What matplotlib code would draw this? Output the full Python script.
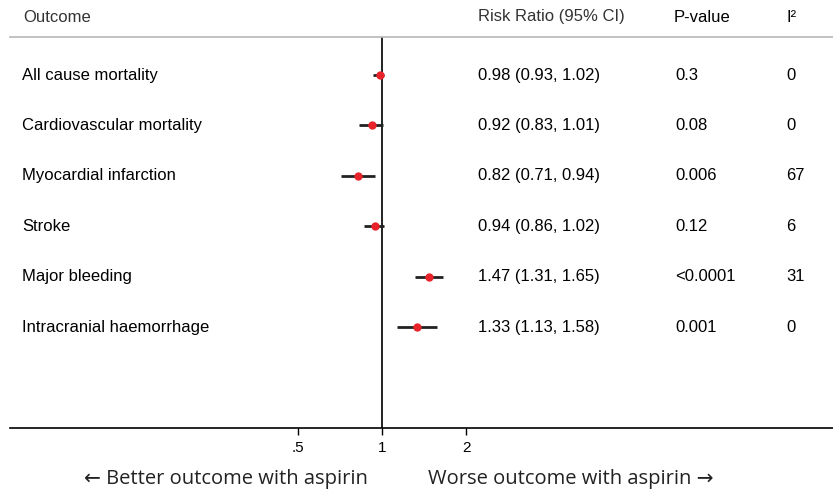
import matplotlib.pyplot as plt
import numpy as np

# pooled estimates, aspirin vs no aspirin
outcomes = ["All cause mortality", "Cardiovascular mortality", "Myocardial infarction",
            "Stroke", "Major bleeding", "Intracranial haemorrhage"]
rr = [0.98, 0.92, 0.82, 0.94, 1.47, 1.33]
lo = [0.93, 0.83, 0.71, 0.86, 1.31, 1.13]
hi = [1.02, 1.01, 0.94, 1.02, 1.65, 1.58]
pvals = ["0.3", "0.08", "0.006", "0.12", "<0.0001", "0.001"]
i2 = ["0", "0", "67", "6", "31", "0"]
xticks = [0.5, 1, 2]
xticklabels = [".5", "1", "2"]

W, H = 833, 492
fig = plt.figure(figsize=(W / 100, H / 100), dpi=100)
plt.rcParams['font.family'] = ['Liberation Sans', 'DejaVu Sans']

ax = fig.add_axes([10 / W, 1 - 428 / H, 1 - 10 / W, (428 - 37) / H])
ax.set_xscale('log', base=2)
ax.set_xlim(2 ** -4.43, 2 ** 5.37)
ax.set_ylim(7.0, -0.754)

y = np.arange(len(outcomes))
ax.hlines(y, lo, hi, color='#222222', lw=2, zorder=2)
ax.plot(rr, y, 'o', color='#e8242a', ms=6, mec='none', zorder=3)
ax.axvline(1, color='#111111', lw=1.3, zorder=1)

for s in ['left', 'right']:
    ax.spines[s].set_visible(False)
ax.spines['top'].set_color('#b8b8b8')
ax.spines['top'].set_linewidth(1.2)
ax.spines['bottom'].set_linewidth(1.2)
ax.set_yticks([])
ax.set_xticks(xticks)
ax.set_xticklabels(xticklabels, fontsize=11)
ax.xaxis.set_minor_locator(plt.NullLocator())
ax.tick_params(axis='x', length=5, width=1, pad=4)

tr = ax.get_yaxis_transform()
def fx(px):
    return px / W

def ax_x(px):
    return (px - 10) / (W - 10)

# table columns
for i, name in enumerate(outcomes):
    yy = y[i]
    ax.text(ax_x(22), yy, name, transform=tr, fontsize=12, va='center')
    ax.text(ax_x(478), yy, f"{rr[i]:.2f} ({lo[i]:.2f}, {hi[i]:.2f})",
            transform=tr, fontsize=12, va='center')
    ax.text(ax_x(675), yy, pvals[i], transform=tr, fontsize=12, va='center')
    ax.text(ax_x(786), yy, i2[i], transform=tr, fontsize=12, va='center')

hy = 1 - 17 / H
fig.text(fx(23), hy, "Outcome", fontsize=12, va='center', color='#333333')
fig.text(fx(478), hy, "Risk Ratio (95% CI)", fontsize=12, va='center', color='#333333')
fig.text(fx(674), hy, "P-value", fontsize=12, va='center')
fig.text(fx(786), hy, "I\u00b2", fontsize=12, va='center')

by = 1 - 479 / H
fig.text(fx(84), by, "\u2190 Better outcome with aspirin", fontsize=14.5, va='center',
         family=['Open Sans', 'DejaVu Sans'], color='#222222')
fig.text(fx(428), by, "Worse outcome with aspirin \u2192", fontsize=14.5, va='center',
         family=['Open Sans', 'DejaVu Sans'], color='#222222')

fig.savefig('out.png', dpi=100)
